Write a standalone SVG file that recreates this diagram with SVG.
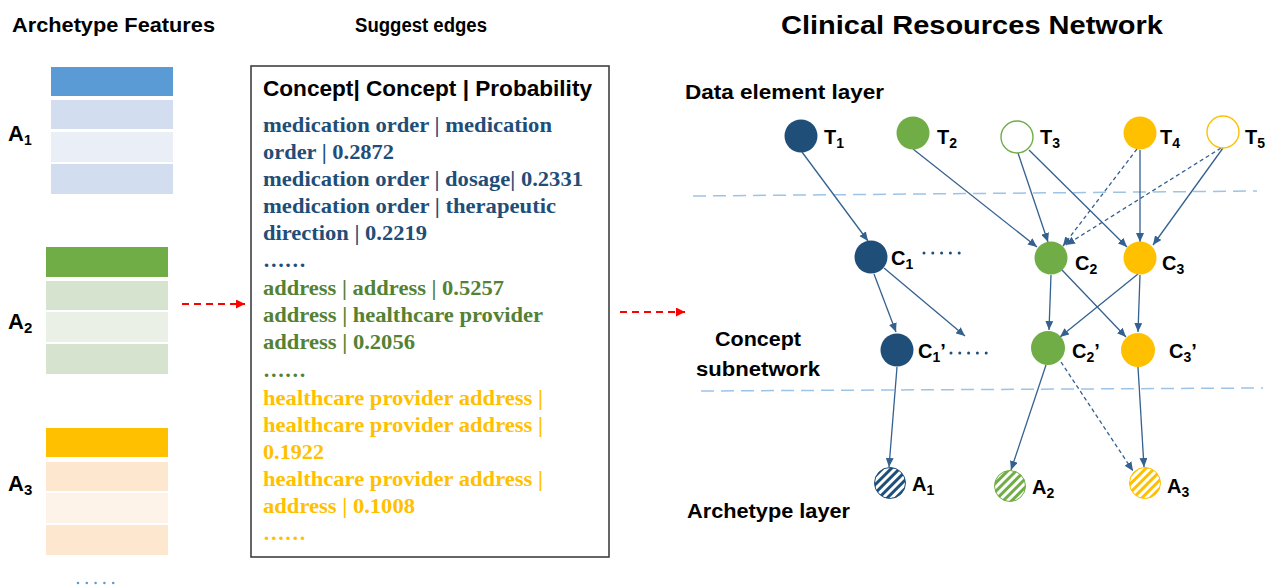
<svg xmlns="http://www.w3.org/2000/svg" width="1277" height="588" viewBox="0 0 1277 588">
<style>
.sans{font-family:"Liberation Sans",Arial,sans-serif;font-weight:bold;fill:#000}
.serif{font-family:"Liberation Serif","Times New Roman",serif;font-weight:bold;font-size:22px}
.blue{fill:#1F4E79}.green{fill:#548235}.orange{fill:#FFC000}
.edge{stroke:#34618F;stroke-width:1.3;fill:none;marker-end:url(#ah)}
.dash{stroke-dasharray:4 3}
.layer{stroke:#9DC3E6;stroke-width:1.5;stroke-dasharray:13 7;fill:none}
.red{stroke:#FF0000;stroke-width:2;stroke-dasharray:7 5;fill:none;marker-end:url(#rh)}
.lbl{font-size:20px}
.sub{font-size:14px}
</style>
<defs>
<marker id="ah" markerUnits="userSpaceOnUse" markerWidth="10" markerHeight="8" refX="9" refY="4" orient="auto"><path d="M0,0 L9,4 L0,8 z" fill="#34618F"/></marker>
<marker id="rh" markerUnits="userSpaceOnUse" markerWidth="10" markerHeight="10" refX="9" refY="4.5" orient="auto"><path d="M0,0 L9,4.5 L0,9 z" fill="#FF0000"/></marker>
<pattern id="hb" width="6" height="6" patternUnits="userSpaceOnUse" patternTransform="rotate(45)"><rect width="6" height="6" fill="#fff"/><rect width="3" height="6" fill="#1F4E79"/></pattern>
<pattern id="hg" width="6" height="6" patternUnits="userSpaceOnUse" patternTransform="rotate(45)"><rect width="6" height="6" fill="#fff"/><rect width="3" height="6" fill="#70AD47"/></pattern>
<pattern id="ho" width="6" height="6" patternUnits="userSpaceOnUse" patternTransform="rotate(45)"><rect width="6" height="6" fill="#fff"/><rect width="3" height="6" fill="#FFC000"/></pattern>
</defs>
<rect width="1277" height="588" fill="#fff"/>

<!-- headings -->
<text class="sans" x="12" y="32" font-size="21" textLength="203" lengthAdjust="spacingAndGlyphs">Archetype Features</text>
<text class="sans" x="355" y="32" font-size="20" textLength="132" lengthAdjust="spacingAndGlyphs">Suggest edges</text>
<text class="sans" x="781" y="34" font-size="26" textLength="382" lengthAdjust="spacingAndGlyphs">Clinical Resources Network</text>

<!-- archetype feature blocks -->
<g id="feat-A1">
<rect x="51" y="67" width="122" height="29" fill="#5B9BD5"/>
<rect x="51" y="100" width="122" height="29" fill="#D2DEEF"/>
<rect x="51" y="132" width="122" height="30" fill="#E9EEF7"/>
<rect x="51" y="164" width="122" height="30" fill="#D2DEEF"/>
<text class="sans" x="8" y="141" font-size="22">A<tspan class="sub" font-size="15" dy="4">1</tspan></text>
</g>
<g id="feat-A2">
<rect x="46" y="247" width="122" height="30" fill="#70AD47"/>
<rect x="46" y="281" width="122" height="29" fill="#D6E3CE"/>
<rect x="46" y="312" width="122" height="30" fill="#EAF0E6"/>
<rect x="46" y="344" width="122" height="30" fill="#D6E3CE"/>
<text class="sans" x="8" y="329" font-size="22">A<tspan font-size="15" dy="4">2</tspan></text>
</g>
<g id="feat-A3">
<rect x="46" y="428" width="122" height="29" fill="#FFC000"/>
<rect x="46" y="462" width="122" height="29" fill="#FDE8CF"/>
<rect x="46" y="493" width="122" height="30" fill="#FEF3E8"/>
<rect x="46" y="525" width="122" height="30" fill="#FDE8CF"/>
<text class="sans" x="8" y="491" font-size="22">A<tspan font-size="15" dy="4">3</tspan></text>
</g>
<line x1="78" y1="583" x2="122" y2="583" stroke="#5B9BD5" stroke-width="2.5" stroke-linecap="round" stroke-dasharray="0 8.8"/>

<!-- suggest edges box -->
<g id="suggest-box">
<rect x="251" y="66" width="358" height="491" fill="#fff" stroke="#404040" stroke-width="1.6"/>
<text class="sans" x="263" y="96" font-size="22" textLength="329" lengthAdjust="spacingAndGlyphs">Concept| Concept | Probability</text>
<text class="serif blue" x="263" y="132" textLength="289" lengthAdjust="spacingAndGlyphs">medication order | medication</text>
<text class="serif blue" x="263" y="159" textLength="131" lengthAdjust="spacingAndGlyphs">order | 0.2872</text>
<text class="serif blue" x="263" y="186" textLength="320" lengthAdjust="spacingAndGlyphs">medication order | dosage| 0.2331</text>
<text class="serif blue" x="263" y="213" textLength="293" lengthAdjust="spacingAndGlyphs">medication order | therapeutic</text>
<text class="serif blue" x="263" y="240" textLength="164" lengthAdjust="spacingAndGlyphs">direction | 0.2219</text>
<text class="serif blue" x="263" y="267" textLength="43" lengthAdjust="spacingAndGlyphs">……</text>
<text class="serif green" x="263" y="295" textLength="241" lengthAdjust="spacingAndGlyphs">address | address | 0.5257</text>
<text class="serif green" x="263" y="322" textLength="280" lengthAdjust="spacingAndGlyphs">address | healthcare provider</text>
<text class="serif green" x="263" y="349" textLength="152" lengthAdjust="spacingAndGlyphs">address | 0.2056</text>
<text class="serif green" x="263" y="377" textLength="43" lengthAdjust="spacingAndGlyphs">……</text>
<text class="serif orange" x="263" y="405" textLength="280" lengthAdjust="spacingAndGlyphs">healthcare provider address |</text>
<text class="serif orange" x="263" y="432" textLength="280" lengthAdjust="spacingAndGlyphs">healthcare provider address |</text>
<text class="serif orange" x="263" y="459" textLength="61" lengthAdjust="spacingAndGlyphs">0.1922</text>
<text class="serif orange" x="263" y="486" textLength="280" lengthAdjust="spacingAndGlyphs">healthcare provider address |</text>
<text class="serif orange" x="263" y="513" textLength="152" lengthAdjust="spacingAndGlyphs">address | 0.1008</text>
<text class="serif orange" x="263" y="540" textLength="43" lengthAdjust="spacingAndGlyphs">……</text>
</g>

<!-- red flow arrows -->
<g id="flow">
<line class="red" x1="182" y1="304" x2="245" y2="304"/>
<line class="red" x1="620" y1="312" x2="685" y2="312"/>
</g>

<!-- layer labels and separators -->
<g id="layers">
<text class="sans" x="685" y="99" font-size="20" textLength="199" lengthAdjust="spacingAndGlyphs">Data element layer</text>
<text class="sans" x="715" y="346" font-size="20" textLength="86" lengthAdjust="spacingAndGlyphs">Concept</text>
<text class="sans" x="696" y="376" font-size="20" textLength="124" lengthAdjust="spacingAndGlyphs">subnetwork</text>
<text class="sans" x="687" y="518" font-size="20" textLength="163" lengthAdjust="spacingAndGlyphs">Archetype layer</text>
<line class="layer" x1="693" y1="196" x2="1257" y2="191"/>
<line class="layer" x1="701" y1="391" x2="1263" y2="388"/>
</g>

<!-- connectors -->
<g id="connectors">
<line class="edge" x1="802" y1="152" x2="868" y2="241"/>
<line class="edge" x1="913" y1="149" x2="1037" y2="247"/>
<line class="edge" x1="1018" y1="153" x2="1048" y2="242"/>
<line class="edge" x1="1029" y1="150" x2="1127" y2="247"/>
<line class="edge" x1="1140" y1="150" x2="1140" y2="242"/>
<line class="edge" x1="1223" y1="148" x2="1153" y2="245"/>
<line class="edge dash" x1="1137" y1="149" x2="1063" y2="246"/>
<line class="edge dash" x1="1221" y1="148" x2="1066" y2="245"/>
<line class="edge" x1="874" y1="274" x2="896" y2="332"/>
<line class="edge" x1="884" y1="268" x2="965" y2="336"/>
<line class="edge" x1="1051" y1="275" x2="1049" y2="330"/>
<line class="edge" x1="1062" y1="270" x2="1126" y2="337"/>
<line class="edge" x1="1138" y1="274" x2="1060" y2="337"/>
<line class="edge" x1="1140" y1="275" x2="1138" y2="332"/>
<line class="edge" x1="897" y1="367" x2="889" y2="467"/>
<line class="edge" x1="1046" y1="365" x2="1011" y2="470"/>
<line class="edge dash" x1="1061" y1="362" x2="1133" y2="471"/>
<line class="edge" x1="1138" y1="367" x2="1144" y2="467"/>
</g>

<!-- data element nodes -->
<g id="T1"><circle cx="801" cy="136" r="16.5" fill="#1F4E79"/><text class="sans lbl" x="824" y="144">T<tspan class="sub" dy="4">1</tspan></text></g>
<g id="T2"><circle cx="913" cy="133" r="16.5" fill="#70AD47"/><text class="sans lbl" x="937" y="144">T<tspan class="sub" dy="4">2</tspan></text></g>
<g id="T3"><circle cx="1017" cy="137" r="16" fill="#fff" stroke="#70AD47" stroke-width="1.4"/><text class="sans lbl" x="1040" y="144">T<tspan class="sub" dy="4">3</tspan></text></g>
<g id="T4"><circle cx="1140" cy="133" r="16.5" fill="#FFC000"/><text class="sans lbl" x="1160" y="144">T<tspan class="sub" dy="4">4</tspan></text></g>
<g id="T5"><circle cx="1223" cy="132" r="16" fill="#fff" stroke="#FFC000" stroke-width="1.4"/><text class="sans lbl" x="1245" y="144">T<tspan class="sub" dy="4">5</tspan></text></g>

<!-- concept nodes -->
<g id="C1"><circle cx="871" cy="257" r="16.5" fill="#1F4E79"/><text class="sans lbl" x="891" y="265">C<tspan class="sub" dy="4">1</tspan></text>
<line x1="924" y1="253" x2="968" y2="253" stroke="#1F4E79" stroke-width="3" stroke-linecap="round" stroke-dasharray="0 8.8"/></g>
<g id="C2"><circle cx="1051" cy="258" r="16.5" fill="#70AD47"/><text class="sans lbl" x="1075" y="270">C<tspan class="sub" dy="4">2</tspan></text></g>
<g id="C3"><circle cx="1140" cy="258" r="16.5" fill="#FFC000"/><text class="sans lbl" x="1162" y="270">C<tspan class="sub" dy="4">3</tspan></text></g>
<g id="C1p"><circle cx="897" cy="350" r="16.5" fill="#1F4E79"/><text class="sans lbl" x="918" y="358">C<tspan class="sub" dy="4">1</tspan><tspan dy="-4">’</tspan></text>
<line x1="951" y1="353" x2="995" y2="353" stroke="#1F4E79" stroke-width="3" stroke-linecap="round" stroke-dasharray="0 8.8"/></g>
<g id="C2p"><circle cx="1048" cy="348" r="17" fill="#70AD47"/><text class="sans lbl" x="1072" y="358">C<tspan class="sub" dy="4">2</tspan><tspan dy="-4">’</tspan></text></g>
<g id="C3p"><circle cx="1138" cy="350" r="17" fill="#FFC000"/><text class="sans lbl" x="1169" y="358">C<tspan class="sub" dy="4">3</tspan><tspan dy="-4">’</tspan></text></g>

<!-- archetype nodes -->
<g id="A1"><circle cx="890" cy="483" r="15.5" fill="url(#hb)" stroke="#1F4E79" stroke-width="1"/><text class="sans lbl" x="912" y="491">A<tspan class="sub" dy="4">1</tspan></text></g>
<g id="A2"><circle cx="1010" cy="486" r="15.5" fill="url(#hg)" stroke="#70AD47" stroke-width="1"/><text class="sans lbl" x="1032" y="494">A<tspan class="sub" dy="4">2</tspan></text></g>
<g id="A3"><circle cx="1145" cy="483" r="15.5" fill="url(#ho)" stroke="#FFC000" stroke-width="1"/><text class="sans lbl" x="1167" y="493">A<tspan class="sub" dy="4">3</tspan></text></g>
</svg>
